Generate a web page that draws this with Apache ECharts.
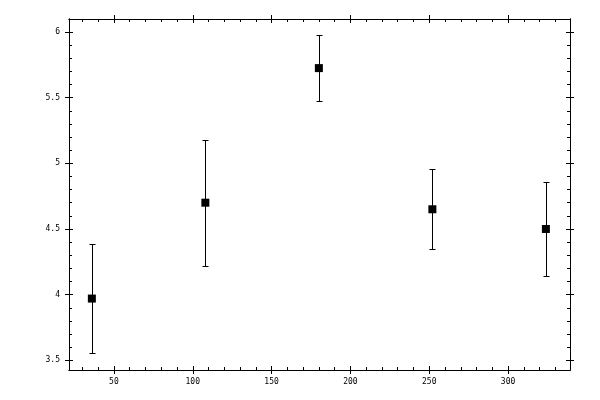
<!DOCTYPE html>
<html><head><meta charset="utf-8">
<script src="https://cdn.jsdelivr.net/npm/echarts@6/dist/echarts.min.js"></script>
<style>html,body{margin:0;padding:0;background:#fff}#c{width:600px;height:400px}</style>
</head><body><div id="c"></div>
<script>
const xValues = [36, 108, 180, 252, 324];
const yValues = [3.97, 4.70, 5.725, 4.65, 4.50];
const yErrors = [0.415, 0.48, 0.25, 0.305, 0.36];
const xTickValues = [50, 100, 150, 200, 250, 300];
const yTickValues = [3.5, 4, 4.5, 5, 5.5, 6];

const X_MIN = 21.5, X_MAX = 339.3, Y_MIN = 3.426, Y_MAX = 6.099;
const FONT = 'DejaVu Sans Mono';
const black = '#000';

function axis(kind, pos, inside, labels) {
  const isX = kind === 'x';
  const ticks = isX ? xTickValues : yTickValues;
  return {
    type: 'value', position: pos,
    min: isX ? X_MIN : Y_MIN, max: isX ? X_MAX : Y_MAX,
    minInterval: isX ? 50 : 0.5, maxInterval: isX ? 50 : 0.5,
    axisLine: { show: true, onZero: false, lineStyle: { color: black, width: 1 } },
    axisTick: { show: true, inside: inside, length: 4, customValues: ticks, lineStyle: { color: black, width: 1 } },
    minorTick: { show: inside, splitNumber: 5, length: 3, lineStyle: { color: black, width: 1 } },
    axisLabel: { show: labels, customValues: ticks, margin: isX ? 8 : 9, fontFamily: FONT, fontSize: 8, color: black,
      formatter: v => String(v) },
    splitLine: { show: false }, minorSplitLine: { show: false }
  };
}

const chart = echarts.init(document.getElementById('c'), null, { renderer: 'canvas' });
chart.setOption({
  animation: false,
  backgroundColor: '#fff',
  grid: { left: 69, right: 30, top: 19, bottom: 30, containLabel: false },
  xAxis: [axis('x', 'bottom', false, true), axis('x', 'bottom', true, false),
          axis('x', 'top', false, false), axis('x', 'top', true, false)],
  yAxis: [axis('y', 'left', false, true), axis('y', 'left', true, false),
          axis('y', 'right', false, false), axis('y', 'right', true, false)],
  series: [
    {
      type: 'custom', xAxisIndex: 0, yAxisIndex: 0,
      data: xValues.map((x, i) => [x, yValues[i] - yErrors[i], yValues[i] + yErrors[i]]),
      encode: { x: 0, y: [1, 2] },
      renderItem: function (params, api) {
        const x = api.value(0), lo = api.value(1), hi = api.value(2);
        const pH = api.coord([x, hi]), pL = api.coord([x, lo]);
        const cx = Math.round(pH[0]) + 0.5;
        const yh = Math.round(pH[1]) + 0.5, yl = Math.round(pL[1]) + 0.5;
        const w = 3;
        const st = { stroke: black, lineWidth: 1 };
        return { type: 'group', children: [
          { type: 'line', shape: { x1: cx, y1: yh, x2: cx, y2: yl }, style: st },
          { type: 'line', shape: { x1: cx - w, y1: yh, x2: cx + w, y2: yh }, style: st },
          { type: 'line', shape: { x1: cx - w, y1: yl, x2: cx + w, y2: yl }, style: st }
        ]};
      },
      z: 2
    },
    {
      type: 'scatter', xAxisIndex: 0, yAxisIndex: 0,
      data: xValues.map((x, i) => [x, yValues[i]]),
      symbol: 'rect', symbolSize: 8,
      itemStyle: { color: black, opacity: 1 },
      emphasis: { disabled: true },
      z: 3
    }
  ]
});
</script></body></html>
